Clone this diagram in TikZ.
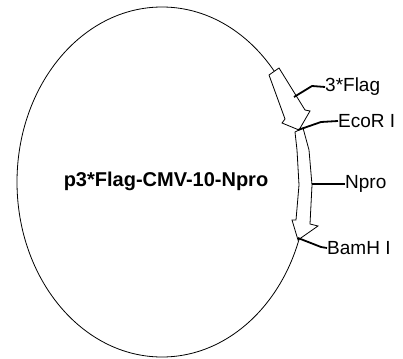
\documentclass[tikz,border=0pt]{standalone}
\usepackage{fontspec}
\setmainfont{Liberation Sans}
\begin{document}
\begin{tikzpicture}[x=1pt,y=-1pt,
  outline/.style={draw=black,line width=0.8pt,line join=miter},
  gene/.style={outline,fill=white},
  leader/.style={draw=black,line width=1.8pt},
  lbl/.style={anchor=west,inner sep=0pt,font=\fontsize{19}{22}\selectfont},
  title/.style={inner sep=0pt,font=\fontsize{20}{24}\selectfont\bfseries}]
\useasboundingbox (0,0) rectangle (403,358);
% plasmid backbone
\draw[outline] (162,182) ellipse [x radius=145, y radius=175];
% 3*Flag arrow
\path[gene] (269,75) -- (279,68) -- (305,110) -- (310,111) -- (299,130)
  -- (282,123) -- (285,119) -- cycle;
% Npro arrow
\path[gene] (295,132) -- (303,128) -- (309,150) -- (312,185) -- (310,224)
  -- (318,226) -- (298,240) -- (292,220) -- (296,220) -- (299,185)
  -- (297,150) -- cycle;
% labels
\node[title] (name) at (166,181) {p3*Flag-CMV-10-Npro};
\node[lbl] (flag) at (325,87) {3*Flag};
\node[lbl] (ecor) at (338,121) {EcoR I};
\node[lbl] (npro) at (345,184) {Npro};
\node[lbl] (bamh) at (327,248) {BamH I};
% leaders
\coordinate (pflag) at (294,97);
\coordinate (pecor) at (298,130);
\coordinate (pnpro) at (312,184);
\coordinate (pbamh) at (298,238);
\draw[leader] (pflag) -- (312,86) -- (flag.west);
\draw[leader] (pecor) -- (321,122) -- (ecor.west);
\draw[leader] (pnpro) -- (npro.west);
\draw[leader] (pbamh) -- (321,247) -- (bamh.west);
\end{tikzpicture}
\end{document}
